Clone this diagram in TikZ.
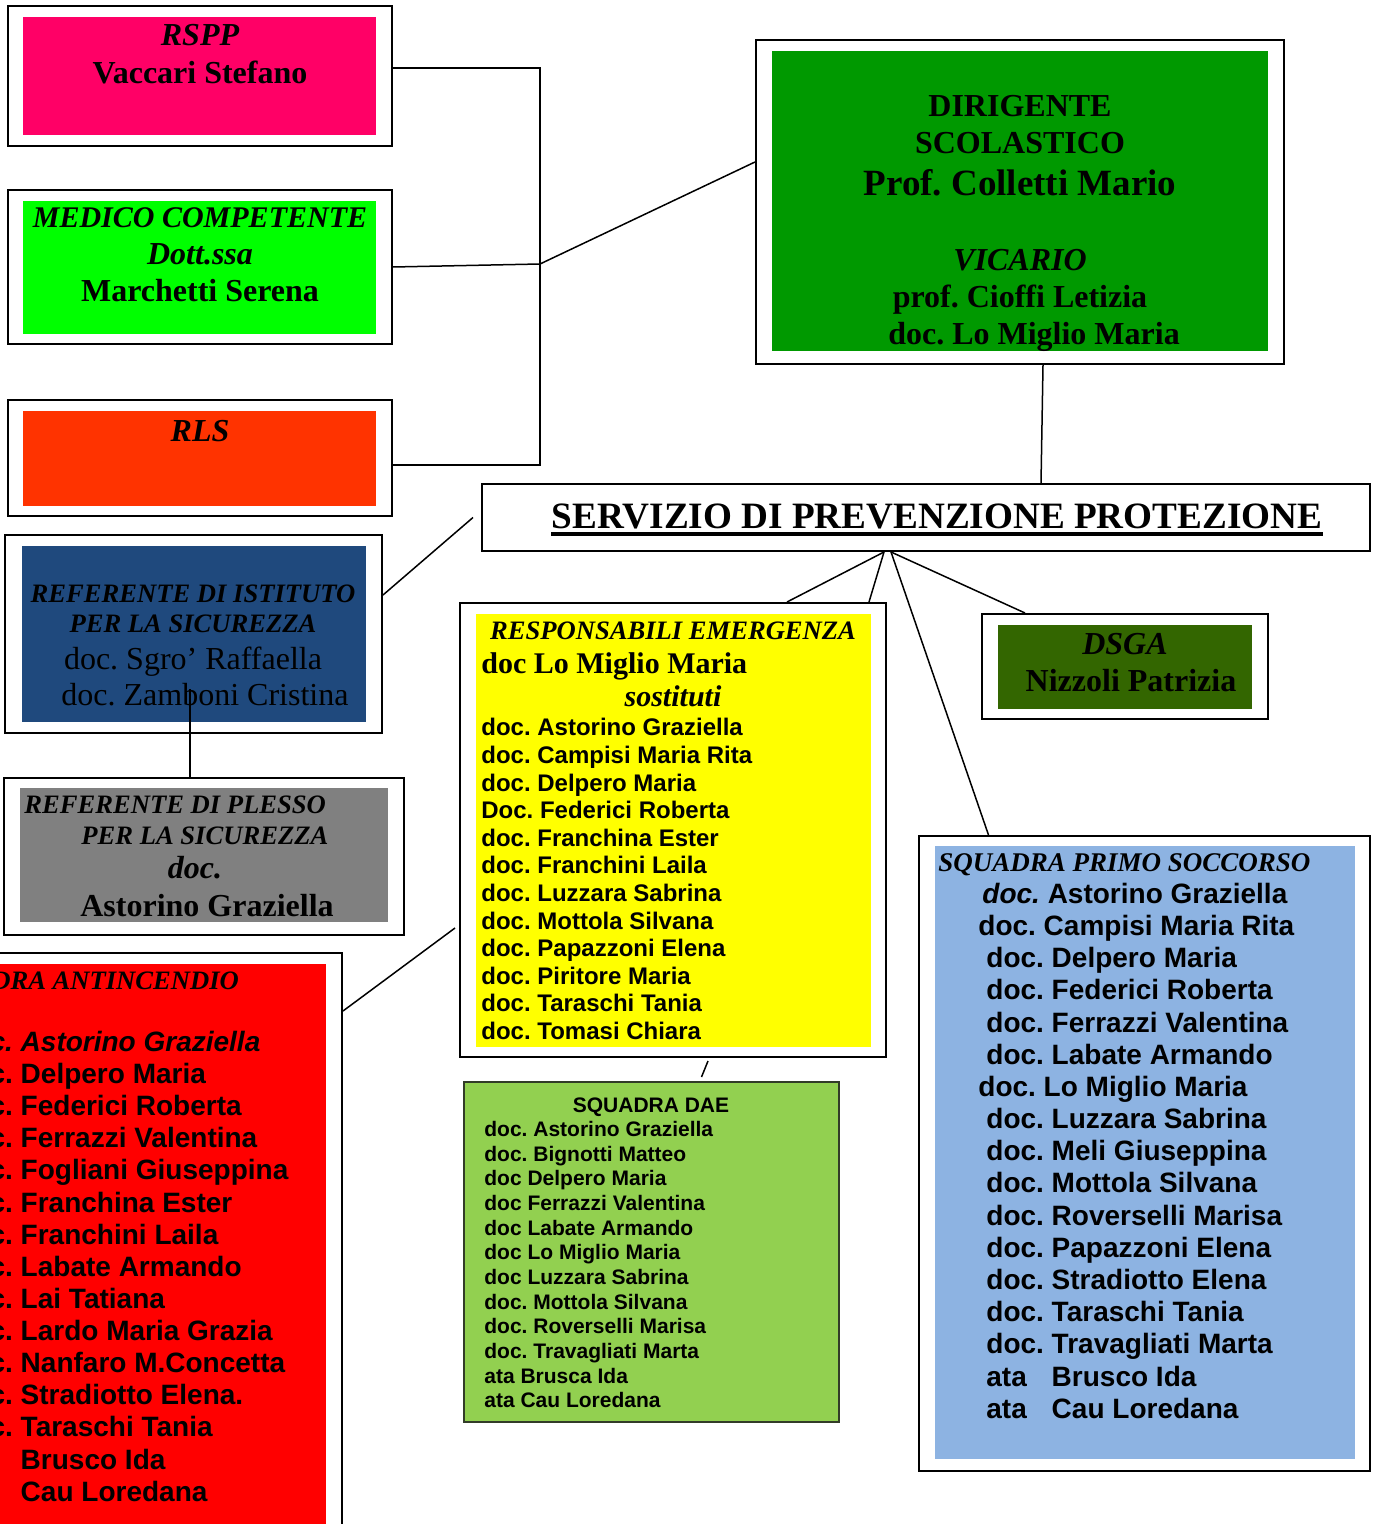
\documentclass[tikz,border=0pt]{standalone}
\usepackage{fontspec}
\setmainfont{Liberation Serif}
\setsansfont{Liberation Sans}
\usetikzlibrary{fit}

\newcommand{\fsz}[2]{\fontsize{#1}{#2}\selectfont}
\frenchspacing

\begin{document}
\begin{tikzpicture}[x=0.5pt,y=0.5pt,yscale=-1,xscale=1,
    frame/.style={draw, line width=1pt, inner sep=0pt},
    panel/.style={inner sep=0pt},
    link/.style={line width=0.75pt},
    lbl/.style={inner sep=0pt, anchor=base},
    lblw/.style={inner sep=0pt, anchor=base west},
    names/.style={inner sep=0pt, anchor=north west, align=left}]
\clip (0,0) rectangle (1377,1524);

% cornici
\node (rspp) [frame, fit={(8,6) (392,146)}] {};
\node (medico) [frame, fit={(8,190) (392,344)}] {};
\node (rls) [frame, fit={(8,400) (392,516)}] {};
\node (dirigente) [frame, fit={(756,40) (1284,364)}] {};
\node (spp) [frame, fit={(482,484) (1370,551)}] {};
\node (refist) [frame, fit={(5,535) (382,733)}] {};
\node (refpl) [frame, fit={(4,778) (404,935)}] {};
\node (resp) [frame, fit={(460,603) (886,1057)}] {};
\node (dsga) [frame, fit={(982,614) (1268,719)}] {};
\node (anti) [frame, fit={(-40,953) (342,1570)}] {};
\node (primo) [frame, fit={(919,836) (1370,1471)}] {};
\node (dae) [frame, draw={rgb, 255:red, 50; green, 60; blue, 40 }, fill={rgb, 255:red, 146; green, 208; blue, 80 }, fit={(464,1082) (839,1422)}] {};

% sfondi colorati
\node (rsppbg) [panel, fill={rgb, 255:red, 255; green, 0; blue, 102 }, fit={(23,17) (376,135)}] {};
\node (medicobg) [panel, fill={rgb, 255:red, 0; green, 255; blue, 0 }, fit={(23,201) (376,334)}] {};
\node (rlsbg) [panel, fill={rgb, 255:red, 255; green, 51; blue, 0 }, fit={(23,411) (376,506)}] {};
\node (dirigentebg) [panel, fill={rgb, 255:red, 0; green, 153; blue, 0 }, fit={(772,51) (1268,351)}] {};
\node (refistbg) [panel, fill={rgb, 255:red, 31; green, 73; blue, 125 }, fit={(22,546) (366,722)}] {};
\node (refplbg) [panel, fill={rgb, 255:red, 128; green, 128; blue, 128 }, fit={(20,788) (388,922)}] {};
\node (respbg) [panel, fill={rgb, 255:red, 255; green, 255; blue, 0 }, fit={(476,614) (871,1047)}] {};
\node (dsgabg) [panel, fill={rgb, 255:red, 51; green, 102; blue, 0 }, fit={(998,625) (1252,709)}] {};
\node (antibg) [panel, fill={rgb, 255:red, 255; green, 0; blue, 0 }, fit={(-40,964) (326,1570)}] {};
\node (primobg) [panel, fill={rgb, 255:red, 141; green, 179; blue, 226 }, fit={(935,846) (1355,1459)}] {};

% collegamenti
\coordinate (busT) at (540,68);
\coordinate (busM) at (540,264);
\coordinate (busB) at (540,465);
\draw[link] (rspp.east |- busT) -- (busT) -- (busB) -- (rls.east |- busB);
\draw[link] (medico.east) -- (busM);
\draw[link] (busM) -- ([yshift=-20pt]dirigente.west);
\draw[link] ([xshift=11.5pt]dirigente.south) -- ([xshift=57.5pt]spp.north);
\draw[link] ([xshift=-4pt]spp.west) -- ([yshift=-19.5pt]refist.east);
\draw[link] ([xshift=-7pt]refpl.north) -- ++(0,-88);
\draw[link] ([xshift=-21pt]spp.south) -- ([xshift=57pt]resp.north);
\draw[link] ([xshift=-21pt]spp.south) -- ([xshift=98pt]resp.north);
\draw[link] ([xshift=-17.5pt]spp.south) -- ([xshift=-78pt]primo.north);
\draw[link] ([xshift=-17.5pt]spp.south) -- ([xshift=-50pt]dsga.north);
\draw[link] ([xshift=-2pt,yshift=49pt]resp.west) -- ([yshift=29.5pt]anti.north east);
\draw[link] ([xshift=17.5pt,yshift=1.5pt]resp.south) -- ([xshift=25pt,yshift=-2pt]dae.north);

% RSPP, medico, RLS
\node (rsppT) [lbl, font=\fsz{16}{18}\bfseries\itshape] at (200,45.5) {RSPP};
\node (rsppN) [lbl, font=\fsz{16}{18}\bfseries] at (200,83.5) {Vaccari Stefano};
\node (medicoT) [lbl, font=\fsz{15}{17}\bfseries\itshape] at (200,228) {MEDICO COMPETENTE};
\node (medicoD) [lbl, font=\fsz{16}{18}\bfseries\itshape] at (200,264.5) {Dott.ssa};
\node (medicoN) [lbl, font=\fsz{16}{18}\bfseries] at (200,301.5) {Marchetti Serena};
\node (rlsT) [lbl, font=\fsz{16}{18}\bfseries\itshape] at (200,441.5) {RLS};

% dirigente
\node (dirT1) [lbl, font=\fsz{16}{18}\bfseries] at (1020,116.5) {DIRIGENTE};
\node (dirT2) [lbl, font=\fsz{16}{18}\bfseries] at (1020,153.5) {SCOLASTICO};
\node (dirN) [lbl, font=\fsz{18.5}{21}\bfseries] at (1020,196) {Prof. Colletti Mario};
\node (vicT) [lbl, font=\fsz{16}{18}\bfseries\itshape] at (1020,270.5) {VICARIO};
\node (vicN1) [lbl, font=\fsz{16}{18}\bfseries] at (1020,307.5) {prof. Cioffi Letizia};
\node (vicN2) [lbl, font=\fsz{16}{18}\bfseries] at (1034,344.5) {doc. Lo Miglio Maria};

% servizio
\node (sppT) [lbl, font=\fsz{18.6}{21}\bfseries] at (937,528) {SERVIZIO DI PREVENZIONE PROTEZIONE};
\draw[line width=2pt] ([yshift=3pt]sppT.base west) -- ([yshift=3pt]sppT.base east);

% referenti
\node (refistT1) [lbl, font=\fsz{13.3}{15}\bfseries\itshape] at (193,602) {REFERENTE DI ISTITUTO};
\node (refistT2) [lbl, font=\fsz{13.3}{15}\bfseries\itshape] at (193,632) {PER LA SICUREZZA};
\node (refistN1) [lbl, font=\fsz{16}{18}] at (193,669) {doc. Sgro’ Raffaella};
\node (refistN2) [lbl, font=\fsz{16}{18}] at (205,705) {doc. Zamboni Cristina};
\node (refplT1) [lblw, font=\fsz{13.3}{15}\bfseries\itshape] at (24,813) {REFERENTE DI PLESSO};
\node (refplT2) [lblw, font=\fsz{13.3}{15}\bfseries\itshape] at (81,844) {PER LA SICUREZZA};
\node (refplD) [lbl, font=\fsz{16}{18}\bfseries\itshape] at (195,878) {doc.};
\node (refplN) [lbl, font=\fsz{16}{18}\bfseries] at (207,916.5) {Astorino Graziella};

% DSGA
\node (dsgaT) [lbl, font=\fsz{16}{18}\bfseries\itshape] at (1125,654.5) {DSGA};
\node (dsgaN) [lbl, font=\fsz{16}{18}\bfseries] at (1131,691.5) {Nizzoli Patrizia};

% responsabili emergenza
\node (respT) [lbl, font=\fsz{13.3}{15}\bfseries\itshape] at (673,639) {RESPONSABILI EMERGENZA};
\node (respN) [lblw, font=\fsz{15}{17}\bfseries] at (481,673) {doc Lo Miglio Maria};
\node (respS) [lbl, font=\fsz{15}{17}\bfseries\itshape] at (673,706) {sostituti};
\node (respL) [names, font=\sffamily\bfseries\fsz{12}{13.8}] at (481,718) {doc. Astorino Graziella\\
doc. Campisi Maria Rita\\
doc. Delpero Maria\\
Doc. Federici Roberta\\
doc. Franchina Ester\\
doc. Franchini Laila\\
doc. Luzzara Sabrina\\
doc. Mottola Silvana\\
doc. Papazzoni Elena\\
doc. Piritore Maria\\
doc. Taraschi Tania\\
doc. Tomasi Chiara};

% antincendio
\node (antiT) [lblw, font=\fsz{13.3}{15}\bfseries\itshape] at (-80,989) {SQUADRA ANTINCENDIO};
\node (antiL) [names, font=\sffamily\bfseries\fsz{14}{16.07}] at (-45,1030.6) {\textit{doc. Astorino Graziella}\\
doc. Delpero Maria\\
doc. Federici Roberta\\
doc. Ferrazzi Valentina\\
doc. Fogliani Giuseppina\\
doc. Franchina Ester\\
doc. Franchini Laila\\
doc. Labate Armando\\
doc. Lai Tatiana\\
doc. Lardo Maria Grazia\\
doc. Nanfaro M.Concetta\\
doc. Stradiotto Elena.\\
doc. Taraschi Tania\\
\rlap{ata}\phantom{doc. }Brusco Ida\\
\rlap{ata}\phantom{doc. }Cau Loredana};

% DAE
\node (daeT) [lbl, font=\sffamily\bfseries\fsz{10.5}{12.3}] at (651,1112.5) {SQUADRA DAE};
\node (daeL) [names, font=\sffamily\bfseries\fsz{10.5}{12.32}] at (484,1121) {doc. Astorino Graziella\\
doc. Bignotti Matteo\\
doc Delpero Maria\\
doc Ferrazzi Valentina\\
doc Labate Armando\\
doc Lo Miglio Maria\\
doc Luzzara Sabrina\\
doc. Mottola Silvana\\
doc. Roverselli Marisa\\
doc. Travagliati Marta\\
ata Brusca Ida\\
ata Cau Loredana};

% primo soccorso
\node (primoT) [lblw, font=\fsz{13.5}{15}\bfseries\itshape] at (938,871) {SQUADRA PRIMO SOCCORSO};
\node (primoL) [names, font=\sffamily\bfseries\fsz{14}{16.09}] at (978,882.6) {\hspace*{2pt}\textit{doc.} Astorino Graziella\\
doc. Campisi Maria Rita\\
\hspace*{4pt}doc. Delpero Maria\\
\hspace*{4pt}doc. Federici Roberta\\
\hspace*{4pt}doc. Ferrazzi Valentina\\
\hspace*{4pt}doc. Labate Armando\\
doc. Lo Miglio Maria\\
\hspace*{4pt}doc. Luzzara Sabrina\\
\hspace*{4pt}doc. Meli Giuseppina\\
\hspace*{4pt}doc. Mottola Silvana\\
\hspace*{4pt}doc. Roverselli Marisa\\
\hspace*{4pt}doc. Papazzoni Elena\\
\hspace*{4pt}doc. Stradiotto Elena\\
\hspace*{4pt}doc. Taraschi Tania\\
\hspace*{4pt}doc. Travagliati Marta\\
\hspace*{4pt}\rlap{ata}\phantom{doc. }Brusco Ida\\
\hspace*{4pt}\rlap{ata}\phantom{doc. }Cau Loredana};
\end{tikzpicture}
\end{document}
